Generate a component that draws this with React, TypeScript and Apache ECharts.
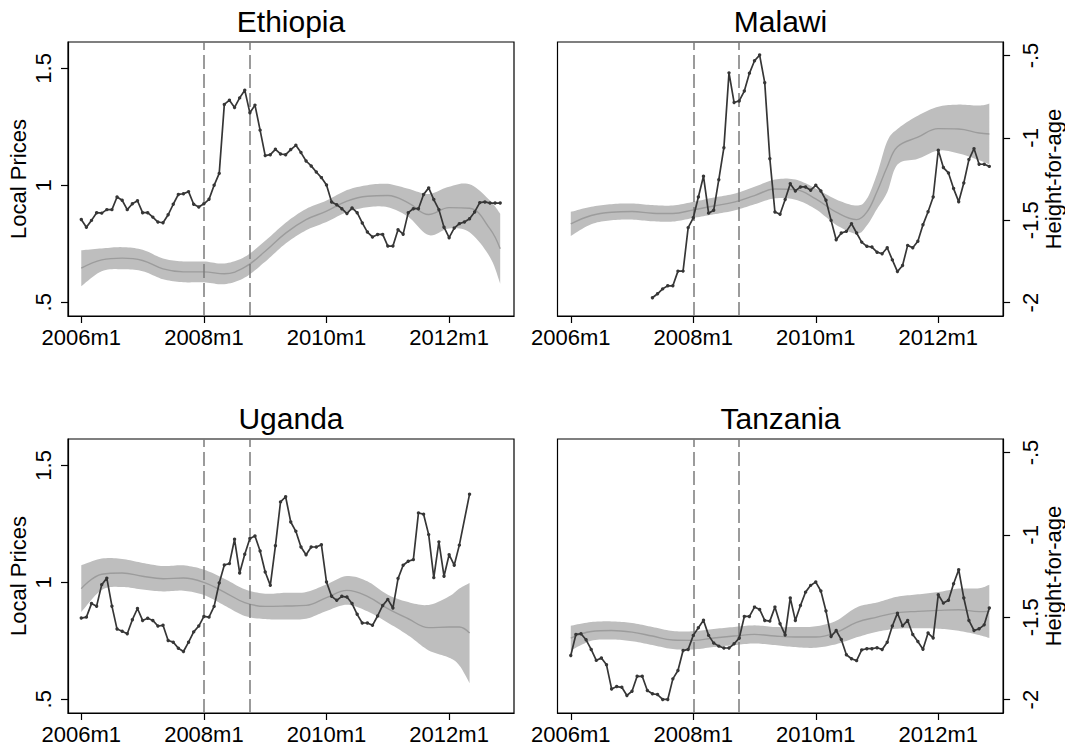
import React, { useEffect, useRef } from "react";
import * as echarts from "echarts";

const FONT = '"Liberation Sans", Arial, Helvetica, sans-serif';

// months counted from 2006m1 = 0
const xTickMonths = [0, 24, 48, 72];
const shockMonths = [24, 33];
const priceTicks = [0.5, 1, 1.5];
const hfaTicks = [-2, -1.5, -1, -0.5];

// ---------- Local prices (monthly) ----------
const ethPriceStart = 0;
const ethPrice = [
  0.854, 0.821, 0.85, 0.883, 0.881, 0.896, 0.896, 0.95, 0.936, 0.896,
  0.921, 0.934, 0.883, 0.883, 0.864, 0.843, 0.84, 0.874, 0.919, 0.961,
  0.964, 0.973, 0.919, 0.907, 0.921, 0.94, 1.0, 1.051, 1.346, 1.364,
  1.333, 1.374, 1.407, 1.31, 1.343, 1.236, 1.127, 1.131, 1.154, 1.134,
  1.131, 1.153, 1.171, 1.14, 1.104, 1.083, 1.057, 1.033, 1.001, 0.929,
  0.917, 0.9, 0.879, 0.903, 0.883, 0.839, 0.8, 0.779, 0.79, 0.79,
  0.74, 0.74, 0.81, 0.791, 0.883, 0.9, 0.9, 0.961, 0.989, 0.939,
  0.896, 0.821, 0.776, 0.817, 0.836, 0.843, 0.857, 0.886, 0.926, 0.929,
  0.924, 0.924, 0.924,
];

const malPriceStart = 16;
const malPrice = [
  0.519, 0.536, 0.557, 0.57, 0.57, 0.633, 0.633, 0.819, 0.861, 0.95,
  1.039, 0.881, 0.893, 1.024, 1.161, 1.481, 1.354, 1.361, 1.403, 1.479,
  1.533, 1.557, 1.439, 1.114, 0.886, 0.876, 0.939, 1.007, 0.976, 0.993,
  0.993, 0.979, 1.0, 0.976, 0.936, 0.85, 0.767, 0.796, 0.803, 0.836,
  0.796, 0.757, 0.739, 0.736, 0.714, 0.707, 0.733, 0.681, 0.631, 0.657,
  0.743, 0.733, 0.761, 0.831, 0.887, 0.95, 1.15, 1.076, 1.053, 0.986,
  0.93, 1.01, 1.11, 1.157, 1.09, 1.09, 1.081,
];

const ugaPriceStart = 0;
const ugaPrice = [
  0.847, 0.851, 0.909, 0.898, 0.99, 1.018, 0.898, 0.8, 0.791, 0.78,
  0.84, 0.888, 0.837, 0.846, 0.837, 0.813, 0.816, 0.751, 0.744, 0.718,
  0.704, 0.744, 0.788, 0.813, 0.854, 0.851, 0.897, 0.997, 1.074, 1.08,
  1.184, 1.04, 1.12, 1.187, 1.198, 1.134, 1.044, 0.987, 1.156, 1.344,
  1.366, 1.258, 1.218, 1.151, 1.118, 1.151, 1.151, 1.161, 1.001, 0.94,
  0.923, 0.94, 0.937, 0.909, 0.863, 0.826, 0.826, 0.816, 0.856, 0.901,
  0.927, 0.89, 1.016, 1.073, 1.09, 1.097, 1.297, 1.291, 1.204, 1.02,
  1.173, 1.026, 1.118, 1.073, 1.159, null, 1.377,
];

const tzaPriceStart = 0;
const tzaPrice = [
  0.687, 0.777, 0.78, 0.754, 0.713, 0.666, 0.676, 0.647, 0.544, 0.554,
  0.551, 0.516, 0.534, 0.598, 0.598, 0.537, 0.523, 0.52, 0.499, 0.499,
  0.587, 0.623, 0.708, 0.713, 0.773, 0.806, 0.838, 0.773, 0.74, 0.727,
  0.719, 0.719, 0.737, 0.761, 0.854, 0.854, 0.894, 0.884, 0.837, 0.834,
  0.894, 0.823, 0.775, 0.933, 0.837, 0.901, 0.958, 0.987, 1.001, 0.963,
  0.877, 0.768, 0.794, 0.755, 0.69, 0.673, 0.665, 0.711, 0.716, 0.716,
  0.72, 0.713, 0.744, 0.813, 0.868, 0.814, 0.837, 0.777, 0.747, 0.714,
  0.783, 0.762, 0.947, 0.911, 0.923, 0.994, 1.054, 0.933, 0.837, 0.794,
  0.801, 0.818, 0.89,
];

// ---------- Height-for-age (smoothed fit with confidence band) ----------
const ethBandMonths = [0, 4, 8, 12, 16, 20, 24, 28, 32, 36, 40, 44, 48, 52, 56, 60, 64, 68, 72, 76, 80, 82];
const ethMid = [-1.791, -1.74, -1.73, -1.744, -1.795, -1.813, -1.813, -1.825, -1.785, -1.688, -1.578, -1.496, -1.445, -1.384, -1.354, -1.35, -1.394, -1.465, -1.423, -1.427, -1.552, -1.673];
const ethLo = [-1.9, -1.809, -1.797, -1.809, -1.858, -1.876, -1.876, -1.888, -1.848, -1.751, -1.641, -1.561, -1.51, -1.451, -1.421, -1.421, -1.479, -1.59, -1.55, -1.573, -1.724, -1.885];
const ethHi = [-1.682, -1.671, -1.663, -1.679, -1.732, -1.75, -1.75, -1.762, -1.722, -1.625, -1.515, -1.431, -1.38, -1.317, -1.287, -1.279, -1.309, -1.34, -1.296, -1.281, -1.38, -1.461];

const malBandMonths = [0, 4, 8, 12, 16, 20, 24, 28, 32, 36, 40, 44, 48, 52, 56, 58, 60, 62, 64, 68, 72, 76, 80, 82];
const malMid = [-1.522, -1.471, -1.451, -1.447, -1.457, -1.459, -1.437, -1.413, -1.39, -1.35, -1.31, -1.314, -1.37, -1.451, -1.496, -1.451, -1.325, -1.175, -1.054, -0.996, -0.944, -0.946, -0.97, -0.976];
const malLo = [-1.595, -1.524, -1.5, -1.496, -1.506, -1.508, -1.486, -1.464, -1.441, -1.403, -1.367, -1.375, -1.433, -1.528, -1.582, -1.532, -1.431, -1.33, -1.162, -1.127, -1.077, -1.094, -1.136, -1.16];
const malHi = [-1.449, -1.418, -1.402, -1.398, -1.408, -1.41, -1.388, -1.362, -1.339, -1.297, -1.253, -1.253, -1.307, -1.374, -1.411, -1.37, -1.219, -1.02, -0.946, -0.865, -0.811, -0.798, -0.804, -0.792];

const ugaBandMonths = [0, 4, 8, 12, 16, 20, 24, 28, 32, 36, 40, 44, 48, 52, 56, 60, 64, 68, 72, 74, 76];
const ugaMid = [-1.326, -1.239, -1.231, -1.251, -1.266, -1.262, -1.288, -1.347, -1.411, -1.434, -1.432, -1.428, -1.381, -1.337, -1.373, -1.448, -1.509, -1.563, -1.559, -1.559, -1.596];
const ugaLo = [-1.468, -1.334, -1.316, -1.332, -1.343, -1.339, -1.365, -1.428, -1.492, -1.511, -1.513, -1.509, -1.462, -1.424, -1.464, -1.533, -1.61, -1.701, -1.745, -1.792, -1.9];
const ugaHi = [-1.184, -1.144, -1.146, -1.17, -1.189, -1.185, -1.211, -1.266, -1.33, -1.357, -1.351, -1.347, -1.3, -1.25, -1.282, -1.363, -1.408, -1.425, -1.373, -1.326, -1.292];

const tzaBandMonths = [0, 4, 8, 12, 16, 20, 24, 28, 32, 36, 40, 44, 48, 52, 56, 60, 64, 68, 72, 76, 80, 82];
const tzaMid = [-1.626, -1.586, -1.58, -1.59, -1.614, -1.638, -1.64, -1.626, -1.614, -1.604, -1.614, -1.62, -1.62, -1.592, -1.531, -1.499, -1.472, -1.464, -1.458, -1.454, -1.466, -1.464];
const tzaLo = [-1.701, -1.643, -1.635, -1.645, -1.669, -1.693, -1.695, -1.681, -1.669, -1.659, -1.669, -1.681, -1.685, -1.663, -1.622, -1.588, -1.569, -1.567, -1.569, -1.582, -1.608, -1.626];
const tzaHi = [-1.551, -1.529, -1.525, -1.535, -1.559, -1.583, -1.585, -1.571, -1.559, -1.549, -1.559, -1.559, -1.555, -1.521, -1.44, -1.41, -1.375, -1.361, -1.347, -1.326, -1.324, -1.302];

const panels = [
  { title: "Ethiopia", priceStart: ethPriceStart, price: ethPrice, months: ethBandMonths, mid: ethMid, lo: ethLo, hi: ethHi, left: 68, top: 42, side: "left" },
  { title: "Malawi", priceStart: malPriceStart, price: malPrice, months: malBandMonths, mid: malMid, lo: malLo, hi: malHi, left: 557.5, top: 42, side: "right" },
  { title: "Uganda", priceStart: ugaPriceStart, price: ugaPrice, months: ugaBandMonths, mid: ugaMid, lo: ugaLo, hi: ugaHi, left: 68, top: 439, side: "left" },
  { title: "Tanzania", priceStart: tzaPriceStart, price: tzaPrice, months: tzaBandMonths, mid: tzaMid, lo: tzaLo, hi: tzaHi, left: 557.5, top: 439, side: "right" },
];

const PW = 446;
const PH = 274;
const X_MIN = -2.6;
const X_MAX = 84.7;
const P_MIN = 0.441;
const P_MAX = 1.613;
const H_MIN = -2.081;
const H_MAX = -0.418;

// Catmull-Rom smoothing of pixel points (rendering only)
function smoothPts(pts: number[][], steps = 10): number[][] {
  const out: number[][] = [];
  const n = pts.length;
  for (let i = 0; i < n - 1; i++) {
    const p0 = pts[Math.max(0, i - 1)];
    const p1 = pts[i];
    const p2 = pts[i + 1];
    const p3 = pts[Math.min(n - 1, i + 2)];
    for (let s = 0; s < steps; s++) {
      const t = s / steps;
      const t2 = t * t;
      const t3 = t2 * t;
      const f = (a: number, b: number, c: number, d: number) =>
        0.5 * (2 * b + (-a + c) * t + (2 * a - 5 * b + 4 * c - d) * t2 + (-a + 3 * b - 3 * c + d) * t3);
      out.push([f(p0[0], p1[0], p2[0], p3[0]), f(p0[1], p1[1], p2[1], p3[1])]);
    }
  }
  out.push(pts[n - 1]);
  return out;
}

function buildOption() {
  const grid: any[] = [];
  const xAxis: any[] = [];
  const yAxis: any[] = [];
  const series: any[] = [];
  const graphic: any[] = [];

  const tickStyle = { color: "#000", width: 1.2 };
  const labelBase = { color: "#000", fontSize: 22, fontFamily: FONT };

  panels.forEach((p, i) => {
    grid.push({
      left: p.left,
      top: p.top,
      width: PW,
      height: PH,
      show: true,
      borderColor: "#000",
      borderWidth: 1.2,
      backgroundColor: "transparent",
      containLabel: false,
    });
    xAxis.push({
      gridIndex: i,
      type: "value",
      min: X_MIN,
      max: X_MAX,
      axisLine: { show: true, onZero: false, lineStyle: tickStyle },
      axisTick: { show: true, length: 7, customValues: xTickMonths, lineStyle: tickStyle },
      axisLabel: {
        ...labelBase,
        margin: 10,
        customValues: xTickMonths,
        formatter: (v: number) => `${2006 + Math.round(v / 12)}m1`,
      },
      splitLine: { show: false },
    });
    const showLeft = p.side === "left";
    yAxis.push({
      gridIndex: i,
      type: "value",
      position: "left",
      min: P_MIN,
      max: P_MAX,
      show: showLeft,
      name: showLeft ? "Local Prices" : "",
      nameLocation: "middle",
      nameGap: 39,
      nameTextStyle: { color: "#000", fontSize: 22, fontFamily: FONT },
      axisLine: { show: true, onZero: false, lineStyle: tickStyle },
      axisTick: { show: true, length: 7, customValues: priceTicks, lineStyle: tickStyle },
      axisLabel: {
        ...labelBase,
        rotate: 90,
        margin: 14,
        customValues: priceTicks,
        formatter: (v: number) => String(v).replace(/^0\./, "."),
      },
      splitLine: { show: false },
    });
    yAxis.push({
      gridIndex: i,
      type: "value",
      position: "right",
      min: H_MIN,
      max: H_MAX,
      show: !showLeft,
      name: !showLeft ? "Height-for-age" : "",
      nameLocation: "middle",
      nameGap: 37,
      nameTextStyle: { color: "#000", fontSize: 22, fontFamily: FONT },
      axisLine: { show: true, onZero: false, lineStyle: tickStyle },
      axisTick: { show: true, length: 7, customValues: hfaTicks, lineStyle: tickStyle },
      axisLabel: {
        ...labelBase,
        rotate: 90,
        margin: 16,
        customValues: hfaTicks,
        formatter: (v: number) => String(v).replace("-0.", "-."),
      },
      splitLine: { show: false },
    });

    const pIdx = 2 * i;
    const hIdx = 2 * i + 1;

    // confidence band
    const bandData = p.months.map((m, k) => [m, p.lo[k], p.hi[k]]);
    series.push({
      type: "custom",
      coordinateSystem: "cartesian2d",
      xAxisIndex: i,
      yAxisIndex: hIdx,
      silent: true,
      clip: true,
      encode: { x: 0, y: [1, 2] },
      data: bandData,
      z: 1,
      renderItem: (params: any, api: any) => {
        if (params.dataIndex !== 0) return null;
        const upper = bandData.map((d) => api.coord([d[0], d[2]]));
        const lower = bandData.map((d) => api.coord([d[0], d[1]]));
        const up = smoothPts(upper);
        const dn = smoothPts(lower).reverse();
        return {
          type: "polygon",
          shape: { points: up.concat(dn) },
          style: { fill: "#bebebe", stroke: "none" },
        };
      },
    });
    // fitted line
    series.push({
      type: "line",
      xAxisIndex: i,
      yAxisIndex: hIdx,
      smooth: 0.4,
      symbol: "none",
      silent: true,
      lineStyle: { color: "#9c9c9c", width: 1.4 },
      data: p.months.map((m, k) => [m, p.mid[k]]),
      z: 2,
    });
    // local prices
    series.push({
      type: "line",
      xAxisIndex: i,
      yAxisIndex: pIdx,
      connectNulls: true,
      symbol: "circle",
      symbolSize: 3.4,
      silent: true,
      lineStyle: { color: "#363636", width: 1.7 },
      itemStyle: { color: "#363636" },
      data: p.price.map((v, k) => [p.priceStart + k, v]),
      z: 4,
      markLine: {
        silent: true,
        symbol: ["none", "none"],
        label: { show: false },
        lineStyle: { color: "#7b7b7b", width: 1.5, type: [14, 5] },
        data: shockMonths.map((m) => ({ xAxis: m })),
        z: 3,
      },
    });

    graphic.push({
      type: "text",
      x: p.left + PW / 2,
      y: p.top - 21,
      style: {
        text: p.title,
        fill: "#000",
        fontSize: 30,
        fontFamily: FONT,
        align: "center",
        verticalAlign: "middle",
      },
    });
  });

  return {
    animation: false,
    backgroundColor: "#fff",
    grid,
    xAxis,
    yAxis,
    series,
    graphic,
  };
}

export default function App() {
  const ref = useRef<HTMLDivElement>(null);
  useEffect(() => {
    if (!ref.current) return;
    const chart = echarts.init(ref.current, undefined, { renderer: "svg" });
    chart.setOption(buildOption() as any);
    return () => chart.dispose();
  }, []);
  return (
    <div
      ref={ref}
      style={{ position: "absolute", left: 0, top: 0, width: 1065, height: 750, background: "#fff" }}
    />
  );
}
